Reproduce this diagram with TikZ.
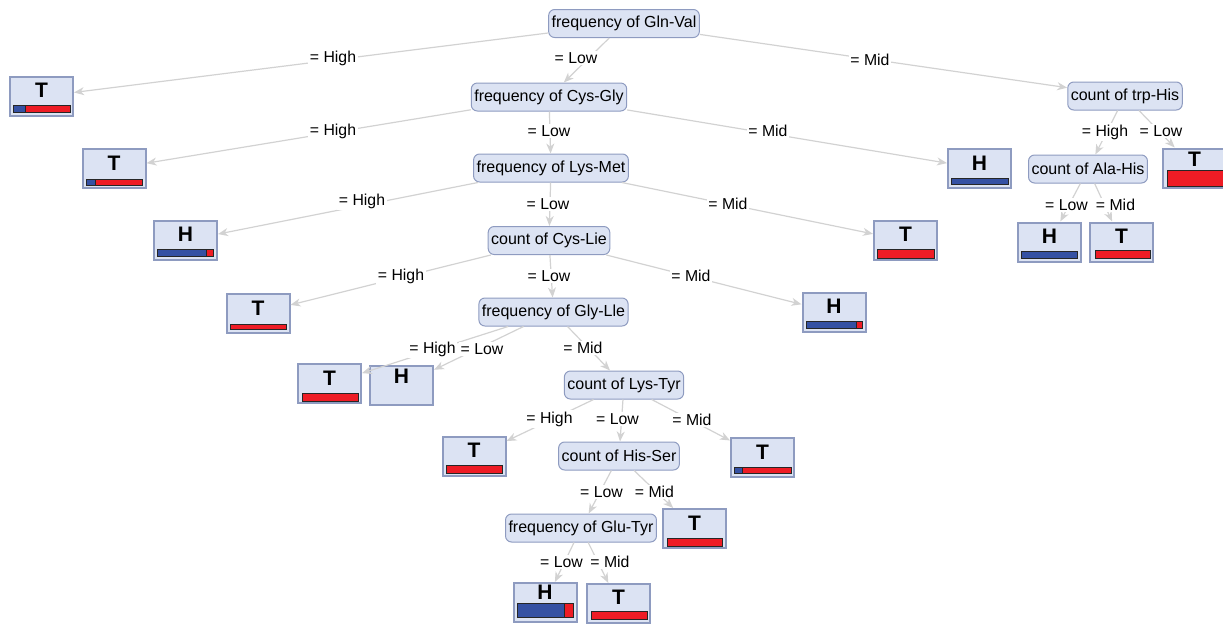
\documentclass[tikz,border=0pt]{standalone}
\usepackage{fontspec}
\setmainfont{Liberation Sans}
\usetikzlibrary{arrows.meta}
\definecolor{nodeblue}{HTML}{DCE3F3}
\definecolor{nodeedge}{HTML}{8E9BC0}
\definecolor{edgegray}{HTML}{D2D2D2}
\definecolor{barblue}{HTML}{3551A3}
\definecolor{barred}{HTML}{EE1C25}

\tikzset{
  split/.style={draw=nodeedge, fill=nodeblue, rounded corners=6pt, line width=1pt,
    minimum height=28pt, inner xsep=3pt, inner ysep=0pt, font=\fontsize{16}{18}\selectfont},
  leaf/.style={draw=nodeedge, fill=nodeblue, line width=2pt,
    minimum width=63pt, minimum height=39pt, inner sep=0pt},
  leafchar/.style={inner sep=0pt, font=\fontsize{21}{24}\selectfont\bfseries},
  link/.style={draw=edgegray, line width=1.2pt, -{Stealth[length=10pt,width=8pt,inset=3pt]}},
  lbl/.style={fill=white, inner sep=1.5pt, font=\fontsize{15.8}{18}\selectfont},
  barbox/.style={draw=black!85, line width=0.6pt}
}

\begin{document}
\begin{tikzpicture}[x=1pt, y=-1pt]
    \useasboundingbox (0,0) rectangle (1223,624);

    % decision nodes
    \node[split] (gv) at (624,23.5) {frequency of Gln-Val};
    \node[split] (cg) at (549,97) {frequency of Cys-Gly};
    \node[split] (lm) at (551,168) {frequency of Lys-Met};
    \node[split] (cl) at (549,240.5) {count of Cys-Lie};
    \node[split] (gl) at (553.5,312) {frequency of Gly-Lle};
    \node[split] (ly) at (624,385) {count of Lys-Tyr};
    \node[split] (hs) at (619,456) {count of His-Ser};
    \node[split] (gt) at (581,528) {frequency of Glu-Tyr};
    \node[split] (th) at (1125,96) {count of trp-His};
    \node[split] (ah) at (1088,169) {count of Ala-His};

    % leaves
    \node[leaf] (l1) at (41.5,96.5) {};
    \node[leaf] (l2) at (114,168.5) {};
    \node[leaf] (l3) at (185.5,240.5) {};
    \node[leaf] (l4) at (258,313) {};
    \node[leaf] (l5) at (979.5,168.5) {};
    \node[leaf] (l6) at (905.5,240.5) {};
    \node[leaf] (l7) at (834,312.5) {};
    \node[leaf] (l8) at (329.5,383.5) {};
    \node[leaf] (l9) at (401.5,385.5) {};
    \node[leaf] (l10) at (474,456.5) {};
    \node[leaf] (l11) at (762.5,457.5) {};
    \node[leaf] (l12) at (694.5,528.5) {};
    \node[leaf] (l13) at (545,602.5) {};
    \node[leaf] (l14) at (618.5,603.5) {};
    \node[leaf] (l15) at (1194.5,168) {};
    \node[leaf] (l16) at (1049.5,242) {};
    \node[leaf] (l17) at (1121.5,242) {};

    \node[leafchar] (l1t) at (41.5,90.5) {T};
    \node[leafchar] (l2t) at (114,163.5) {T};
    \node[leafchar] (l3t) at (185.5,234.5) {H};
    \node[leafchar] (l4t) at (258,308.5) {T};
    \node[leafchar] (l5t) at (979.5,163) {H};
    \node[leafchar] (l6t) at (905.5,234.5) {T};
    \node[leafchar] (l7t) at (834,306.5) {H};
    \node[leafchar] (l8t) at (329.5,378) {T};
    \node[leafchar] (l9t) at (401.5,376.5) {H};
    \node[leafchar] (l10t) at (474,450.5) {T};
    \node[leafchar] (l11t) at (762.5,452) {T};
    \node[leafchar] (l12t) at (694.5,523) {T};
    \node[leafchar] (l13t) at (545,592.5) {H};
    \node[leafchar] (l14t) at (618.5,597) {T};
    \node[leafchar] (l15t) at (1194.5,159) {T};
    \node[leafchar] (l16t) at (1049.5,236.5) {H};
    \node[leafchar] (l17t) at (1121.5,236) {T};

    % class bars
    \filldraw[barbox, fill=barblue] (13,105) rectangle (25,112);
    \filldraw[barbox, fill=barred] (25,105) rectangle (70,112);
    \filldraw[barbox, fill=barblue] (86,179) rectangle (95,185);
    \filldraw[barbox, fill=barred] (95,179) rectangle (142,185);
    \filldraw[barbox, fill=barblue] (157,249) rectangle (206,256);
    \filldraw[barbox, fill=barred] (206,249) rectangle (213,256);
    \filldraw[barbox, fill=barred] (230,324) rectangle (286,329);
    \filldraw[barbox, fill=barblue] (951,178) rectangle (1008,184);
    \filldraw[barbox, fill=barred] (877,249) rectangle (934,258);
    \filldraw[barbox, fill=barblue] (806,321) rectangle (856,328);
    \filldraw[barbox, fill=barred] (856,321) rectangle (862,328);
    \filldraw[barbox, fill=barred] (302,393) rectangle (358,401);
    \filldraw[barbox, fill=barred] (446,465) rectangle (502,473);
    \filldraw[barbox, fill=barblue] (734,467) rectangle (742,473);
    \filldraw[barbox, fill=barred] (742,467) rectangle (791,473);
    \filldraw[barbox, fill=barred] (667,538) rectangle (722,546);
    \filldraw[barbox, fill=barblue] (517,603) rectangle (564,617);
    \filldraw[barbox, fill=barred] (564,603) rectangle (573,617);
    \filldraw[barbox, fill=barred] (591,611) rectangle (647,619);
    \filldraw[barbox, fill=barred] (1167,170) rectangle (1223,186);
    \filldraw[barbox, fill=barblue] (1021,251) rectangle (1077,258);
    \filldraw[barbox, fill=barred] (1095,250) rectangle (1150,258);

    % branches
    \draw[link] (gv) -- (l1) node[lbl] at (333,58) {= High};
    \draw[link] (gv) -- (cg) node[lbl] at (576,58) {= Low};
    \draw[link] (gv) -- (th) node[lbl] at (870,60) {= Mid};
    \draw[link] (cg) -- (l2) node[lbl] at (333,131) {= High};
    \draw[link] (cg) -- (lm) node[lbl] at (549,131) {= Low};
    \draw[link] (cg) -- (l5) node[lbl] at (768,131) {= Mid};
    \draw[link] (lm) -- (l3) node[lbl] at (362,201) {= High};
    \draw[link] (lm) -- (cl) node[lbl] at (548,204) {= Low};
    \draw[link] (lm) -- (l6) node[lbl] at (728,204) {= Mid};
    \draw[link] (cl) -- (l4) node[lbl] at (401,276) {= High};
    \draw[link] (cl) -- (gl) node[lbl] at (549,276) {= Low};
    \draw[link] (cl) -- (l7) node[lbl] at (691,276) {= Mid};
    \draw[link] (gl) -- (l8) node[lbl] at (432.5,349) {= High};
    \draw[link] (gl) -- (l9) node[lbl] at (482,349) {= Low};
    \draw[link] (gl) -- (ly) node[lbl] at (583,348) {= Mid};
    \draw[link] (ly) -- (l10) node[lbl] at (549.5,419) {= High};
    \draw[link] (ly) -- (hs) node[lbl] at (617.5,419) {= Low};
    \draw[link] (ly) -- (l11) node[lbl] at (692,420) {= Mid};
    \draw[link] (hs) -- (gt) node[lbl] at (601.5,492) {= Low};
    \draw[link] (hs) -- (l12) node[lbl] at (654.5,492) {= Mid};
    \draw[link] (gt) -- (l13) node[lbl] at (561.5,562) {= Low};
    \draw[link] (gt) -- (l14) node[lbl] at (610,562) {= Mid};
    \draw[link] (th) -- (ah) node[lbl] at (1105,132) {= High};
    \draw[link] (th) -- (l15) node[lbl] at (1161,131) {= Low};
    \draw[link] (ah) -- (l16) node[lbl] at (1066.5,205) {= Low};
    \draw[link] (ah) -- (l17) node[lbl] at (1115.5,205) {= Mid};
\end{tikzpicture}
\end{document}
